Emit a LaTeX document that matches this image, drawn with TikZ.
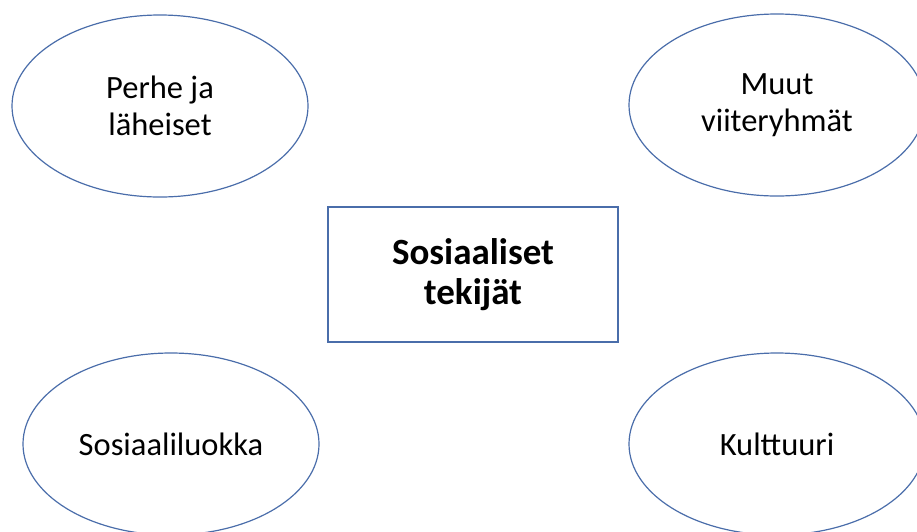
\documentclass[tikz,border=0pt]{standalone}
\usepackage{fontspec}
\setmainfont{Carlito}
\usepackage{tikz}
\usetikzlibrary{shapes.geometric}
\definecolor{shapeblue}{HTML}{4A6DAA}

\begin{document}
\begin{tikzpicture}[x=1pt,y=-1pt,
    factor/.style={ellipse,draw=shapeblue,line width=1.2pt,minimum width=296pt,minimum height=182pt,
      inner sep=0pt,align=center,font=\fontsize{32.5}{37}\selectfont},
    mainbox/.style={rectangle,draw=shapeblue,line width=1.2pt,minimum width=290pt,minimum height=135pt,
      inner sep=0pt,align=center,font=\fontsize{37}{40}\selectfont\bfseries}]
    \useasboundingbox (0,0) rectangle (917,531);
    \clip (0,0) rectangle (917,531);
    \node[mainbox] (social) at (473,274.5) {Sosiaaliset\\tekijät};
    \node[factor] (family) at (160,106) {Perhe ja\\läheiset};
    \node[factor] (groups) at (777,105) {Muut\\viiteryhmät};
    \node[factor] (class) at (171,444) {Sosiaaliluokka};
    \node[factor] (culture) at (777,444) {Kulttuuri};
  \end{tikzpicture}
\end{document}
